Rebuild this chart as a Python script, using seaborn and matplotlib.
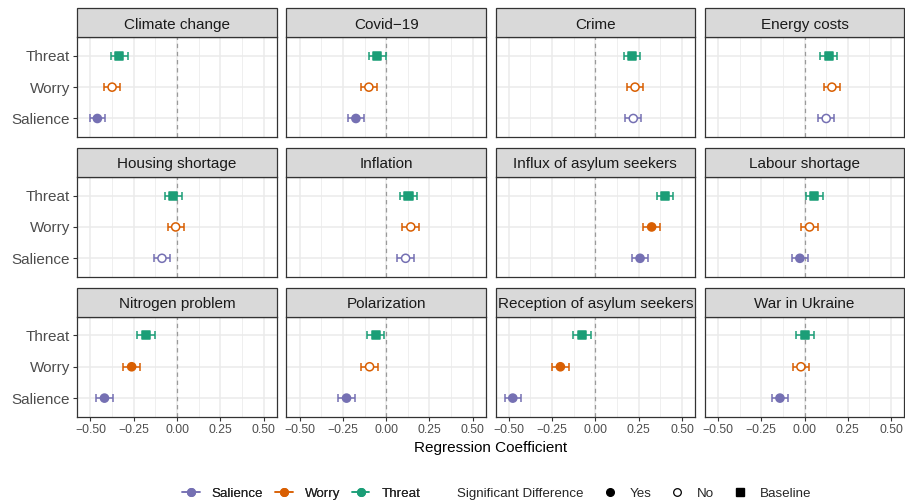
import numpy as np
import pandas as pd
import seaborn as sns
import matplotlib.pyplot as plt
from matplotlib.lines import Line2D
from matplotlib.patches import Rectangle

# data
ISSUES = ['Climate change', 'Covid\u221219', 'Crime', 'Energy costs',
          'Housing shortage', 'Inflation', 'Influx of asylum seekers', 'Labour shortage',
          'Nitrogen problem', 'Polarization', 'Reception of asylum seekers', 'War in Ukraine']
OUTCOMES = ['Salience', 'Worry', 'Threat']   # bottom -> top

salience_coef = [-0.46, -0.175, 0.219, 0.125, -0.087, 0.112, 0.258, -0.027, -0.419, -0.229, -0.477, -0.142]
worry_coef = [-0.375, -0.10, 0.229, 0.158, -0.008, 0.142, 0.325, 0.029, -0.262, -0.096, -0.202, -0.021]
threat_coef = [-0.333, -0.052, 0.21, 0.14, -0.021, 0.129, 0.404, 0.056, -0.179, -0.06, -0.077, 0.004]

salience_ci = [0.045, 0.045, 0.045, 0.045, 0.045, 0.047, 0.047, 0.045, 0.048, 0.047, 0.045, 0.047]
worry_ci = [0.046, 0.047, 0.047, 0.047, 0.047, 0.049, 0.048, 0.051, 0.048, 0.048, 0.048, 0.048]
threat_ci = [0.047, 0.049, 0.047, 0.048, 0.048, 0.049, 0.047, 0.050, 0.050, 0.050, 0.050, 0.052]

salience_sig = ['Yes', 'Yes', 'No', 'No', 'No', 'No', 'Yes', 'Yes', 'Yes', 'Yes', 'Yes', 'Yes']
worry_sig = ['No', 'No', 'No', 'No', 'No', 'No', 'Yes', 'No', 'Yes', 'No', 'Yes', 'No']
threat_sig = ['Baseline'] * 12

X_TICKS = [-0.5, -0.25, 0.0, 0.25, 0.5]
X_TICK_LABELS = ['\u22120.50', '\u22120.25', '0.00', '0.25', '0.50']
X_MINOR = [-0.375, -0.125, 0.125, 0.375]

PALETTE = {'Salience': '#7570B3', 'Worry': '#D95F02', 'Threat': '#1B9E77'}
MARKERS = {'Yes': 'o', 'No': 'o', 'Baseline': 's'}

rows = []
for o, coefs, cis, sigs in [('Salience', salience_coef, salience_ci, salience_sig),
                            ('Worry', worry_coef, worry_ci, worry_sig),
                            ('Threat', threat_coef, threat_ci, threat_sig)]:
    for issue, c, e, s in zip(ISSUES, coefs, cis, sigs):
        rows.append({'issue': issue, 'outcome': o, 'coef': c, 'ci': e, 'sig': s})
df = pd.DataFrame(rows)
df['ypos'] = df['outcome'].map({o: i for i, o in enumerate(OUTCOMES)})

#%% plot

sns.set_theme(style='white')
plt.rcParams['font.family'] = ['Liberation Sans', 'DejaVu Sans']

fig, axes = plt.subplots(3, 4, figsize=(9.05, 5.04), dpi=100, sharex=True, sharey=True)
fig.subplots_adjust(left=0.0854, right=0.9992, top=0.9266, bottom=0.1728,
                    wspace=0.0486, hspace=0.394)

STRIP_H = 29 / 100.3

for k, issue in enumerate(ISSUES):
    ax = axes.flat[k]
    r, c = divmod(k, 4)
    sub = df[df['issue'] == issue].reset_index(drop=True)

    ax.axvline(0, color='#9A9A9A', ls=(0, (3.5, 3)), lw=0.9, zorder=1)
    for row in sub.itertuples():
        ax.errorbar(row.coef, row.ypos, xerr=row.ci, fmt='none',
                    ecolor=PALETTE[row.outcome], elinewidth=1.1,
                    capsize=2.6, capthick=1.1, zorder=2)

    sns.scatterplot(data=sub, x='coef', y='ypos', hue='outcome', palette=PALETTE,
                    style='sig', markers=MARKERS, s=34, linewidth=1.1,
                    legend=False, ax=ax, zorder=3)
    coll = ax.collections[-1]
    fc = coll.get_facecolors().copy()
    coll.set_edgecolors(fc.copy())
    fc[sub['sig'].values == 'No'] = (1, 1, 1, 1)
    coll.set_facecolors(fc)

    ax.set_xlim(-0.576, 0.576)
    ax.set_ylim(-0.6, 2.6)
    ax.set_xticks(X_TICKS)
    ax.set_xticklabels(X_TICK_LABELS)
    ax.set_xticks(X_MINOR, minor=True)
    ax.set_yticks(range(len(OUTCOMES)))
    ax.set_yticklabels(OUTCOMES)
    ax.grid(which='major', color='#EBEBEB', lw=1.1, zorder=0)
    ax.grid(which='minor', axis='x', color='#EBEBEB', lw=0.55, zorder=0)
    ax.set_axisbelow(True)
    ax.set_xlabel('')
    ax.set_ylabel('')

    for sp in ax.spines.values():
        sp.set_color('#333333')
        sp.set_linewidth(0.9)

    ax.tick_params(which='minor', length=0)
    ax.tick_params(axis='x', which='major', bottom=(r == 2), length=3, width=0.8,
                   color='#333333', labelsize=8.8, labelcolor='#4D4D4D', pad=2)
    ax.tick_params(axis='y', which='major', left=(c == 0), length=3, width=0.8,
                   color='#333333', labelsize=11, labelcolor='#4D4D4D', pad=2)

    # facet strip
    ax.add_patch(Rectangle((0, 1), 1, STRIP_H, transform=ax.transAxes, clip_on=False,
                           facecolor='#D9D9D9', edgecolor='#333333', lw=0.9, zorder=5))
    ax.text(0.5, 1 + STRIP_H / 2 - 0.02, issue, transform=ax.transAxes, ha='center',
            va='center', fontsize=11, color='#1A1A1A', zorder=6)

fig.text(0.542, 1 - 448 / 504, 'Regression Coefficient', ha='center', va='center',
         fontsize=11, color='black')

# legends
colour_handles = [Line2D([0], [0], color=PALETTE[o], marker='o', markersize=5.5, lw=1.1)
                  for o in OUTCOMES]
leg1 = fig.legend(colour_handles, OUTCOMES, loc='center', ncol=3,
                  bbox_to_anchor=(0.333, 1 - 494 / 504), frameon=False,
                  fontsize=9.6, handlelength=1.3, handletextpad=0.9, columnspacing=0.9)
fig.add_artist(leg1)

fig.text(457 / 905, 1 - 494 / 504, 'Significant Difference', ha='left', va='center',
         fontsize=9.6)
sig_handles = [Line2D([0], [0], color='black', marker='o', ls='none', markersize=5.5),
               Line2D([0], [0], color='black', marker='o', ls='none', markersize=5.5,
                      markerfacecolor='white', markeredgewidth=0.9),
               Line2D([0], [0], color='black', marker='s', ls='none', markersize=5.5)]
fig.legend(sig_handles, ['Yes', 'No', 'Baseline'], loc='center', ncol=3,
           bbox_to_anchor=(0.780, 1 - 494 / 504), frameon=False,
           fontsize=9.6, handlelength=1.4, handletextpad=0.8, columnspacing=1.2)

plt.savefig('out.png', dpi=100)
plt.close()
